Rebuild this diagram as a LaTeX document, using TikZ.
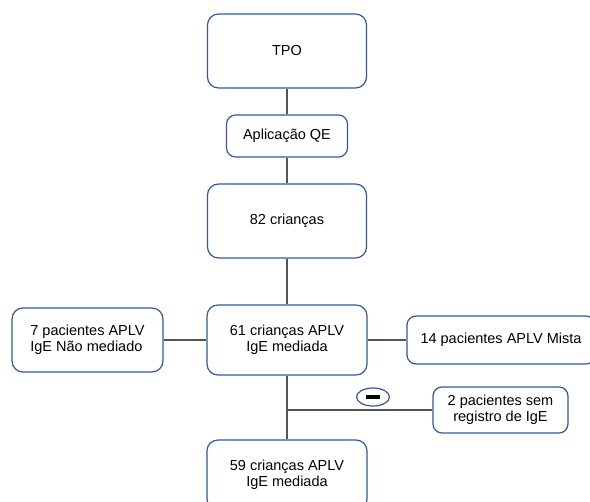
\documentclass[tikz,border=0pt]{standalone}
\usepackage{fontspec}
\setmainfont{Liberation Sans}
\usetikzlibrary{shapes.geometric}
\definecolor{boxblue}{RGB}{52,88,156}
\definecolor{lgray}{RGB}{85,85,85}
\tikzset{%
  fbox/.style={draw=boxblue,line width=1.2pt,rounded corners=11pt,fill=white,align=center,inner sep=2pt,
    font=\fontsize{14.5}{16.5}\selectfont},
  fedge/.style={draw=lgray,line width=1.3pt},
  mdot/.style={draw=boxblue,line width=1.2pt,shape=ellipse,minimum width=33pt,minimum height=18pt,inner sep=0pt}
}
\begin{document}
\begin{tikzpicture}[x=1pt,y=-1pt]
    \useasboundingbox (0,0) rectangle (590,502);
    \fill[white] (0,0) rectangle (590,502);
    \path
      (287,51)  node (tpo)[fbox,minimum width=159pt,minimum height=74pt]{TPO}
      (287,136) node (qe)[fbox,minimum width=121pt,minimum height=42pt,rounded corners=9pt]{Aplicação QE}
      (287,221) node (c82)[fbox,minimum width=159pt,minimum height=74pt]{82 crianças}
      (287,340) node (c61)[fbox,minimum width=160pt,minimum height=70pt]{61 crianças APLV\\IgE mediada}
      (87.5,340) node (p7)[fbox,minimum width=151pt,minimum height=64pt,align=left]{7 pacientes APLV\\IgE Não mediado}
      (501,340) node (p14)[fbox,minimum width=188pt,minimum height=48pt,rounded corners=9pt]{14 pacientes APLV Mista}
      (500.5,410) node (p2)[fbox,minimum width=135pt,minimum height=46pt,rounded corners=9pt]{2 pacientes sem\\registro de IgE}
      (287,475) node (c59)[fbox,minimum width=160pt,minimum height=70pt]{59 crianças APLV\\IgE mediada}
      (287,410) coordinate (j)
      (373,397) node (minus)[mdot]{\rule{14pt}{4pt}};
    \draw[fedge] (tpo) -- (qe);
    \draw[fedge] (qe) -- (c82);
    \draw[fedge] (c82) -- (c61);
    \draw[fedge] (c61) -- (c59);
    \draw[fedge] (p7) -- (c61);
    \draw[fedge] (c61) -- (p14);
    \draw[fedge] (j) -- (p2);
  \end{tikzpicture}
\end{document}
